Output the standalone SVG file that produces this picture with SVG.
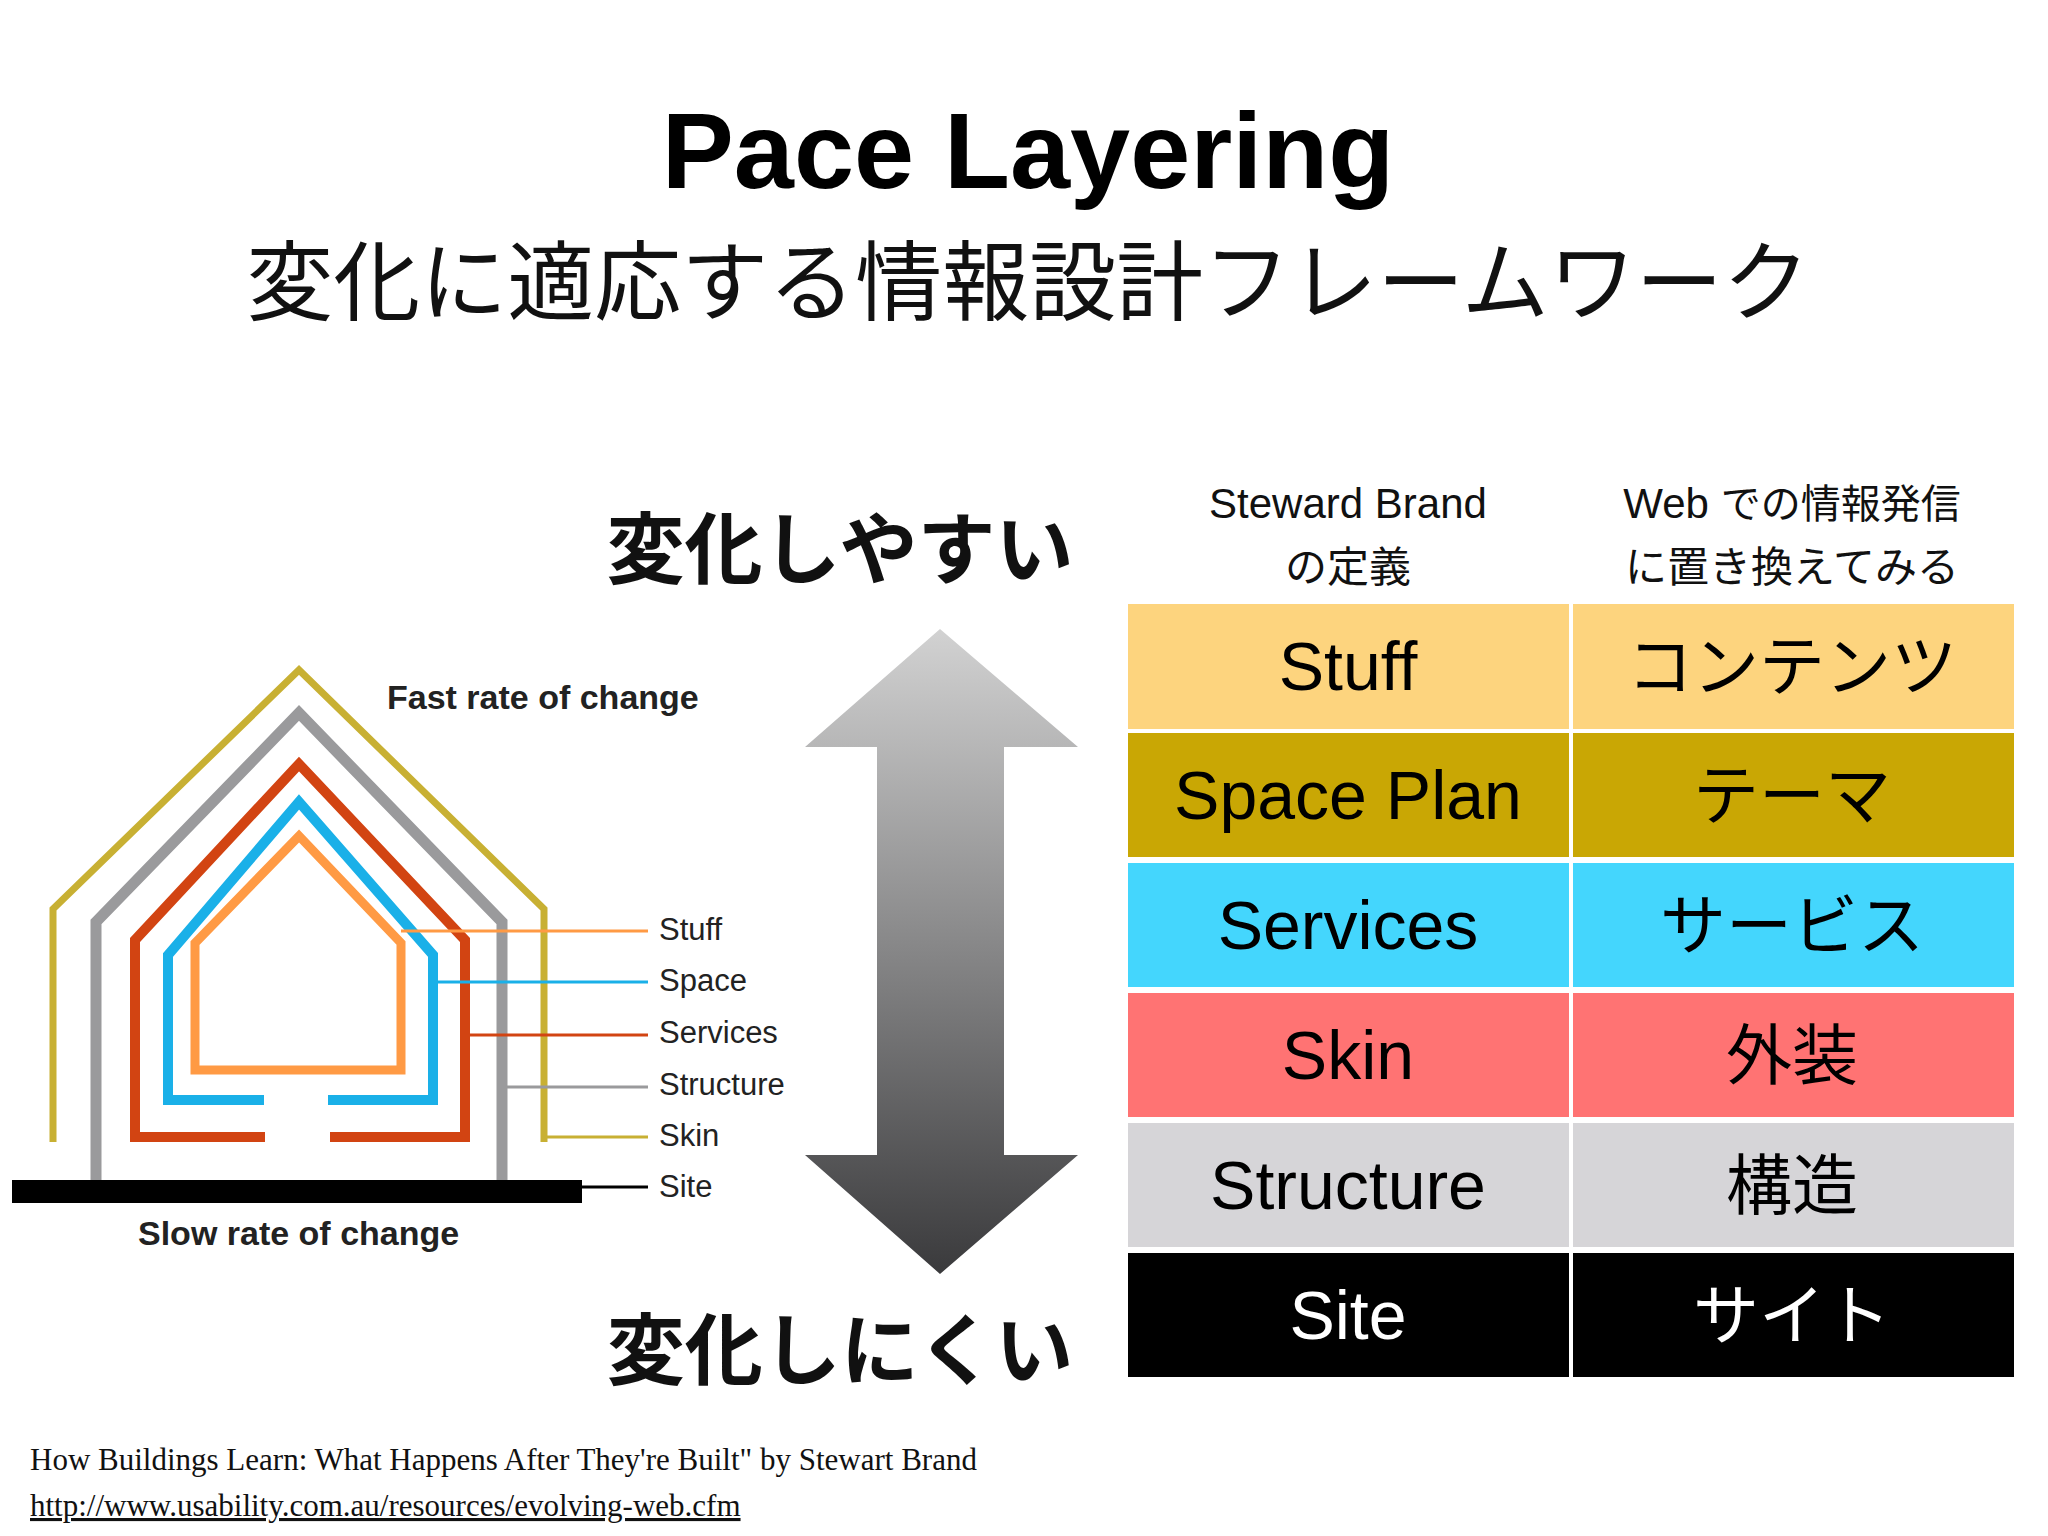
<svg xmlns="http://www.w3.org/2000/svg" width="2048" height="1536" viewBox="0 0 2048 1536">
<defs>
<linearGradient id="ag" x1="0" y1="0" x2="0" y2="1"><stop offset="0" stop-color="#d2d2d2"/><stop offset="1" stop-color="#3a3a3c"/></linearGradient>
<style>
.jp{font-family:"Noto Sans CJK JP",sans-serif}
.la{font-family:"Liberation Sans",Arial,"Noto Sans CJK JP",sans-serif}
.cell{font-size:68px;text-anchor:middle}
.cj{font-size:66px;text-anchor:middle;font-family:"Noto Sans CJK JP",sans-serif}
.hd{font-size:42px;text-anchor:middle;fill:#111}
.lbl{font-family:"Liberation Sans",Arial,sans-serif;font-size:31px;fill:#222}
.ln{fill:none}
</style>
</defs>
<rect width="2048" height="1536" fill="#fff"/>
<g id="title">
<text x="1028" y="188" text-anchor="middle" class="la" font-weight="bold" font-size="108" fill="#000">Pace Layering</text>
<text x="1028" y="314" text-anchor="middle" class="jp" font-size="87" fill="#111">変化に適応する情報設計フレームワーク</text>
</g>
<g id="house">
<polyline class="ln" stroke="#c8b033" stroke-width="7" points="53,1142 53,909 299,670 544,909 544,1142"/>
<polyline class="ln" stroke="#9a9a9c" stroke-width="11" points="96,1180 96,922 299,713 502,922 502,1180"/>
<polyline class="ln" stroke="#d24412" stroke-width="10" points="265,1137 135,1137 135,940 299,764 465,940 465,1137 330,1137"/>
<polyline class="ln" stroke="#1ab0e8" stroke-width="10" points="264,1100 168,1100 168,955 299,802 433,955 433,1100 328,1100"/>
<polygon class="ln" stroke="#ff9a44" stroke-width="9" points="195,1070 195,943 299,836 401,943 401,1070"/>
<rect x="12" y="1180" width="570" height="23" fill="#000"/>
</g>
<g id="leaders" stroke-width="3">
<line x1="401" y1="931" x2="648" y2="931" stroke="#ff9a44"/>
<line x1="433" y1="982" x2="648" y2="982" stroke="#1ab0e8"/>
<line x1="465" y1="1035" x2="648" y2="1035" stroke="#d24412"/>
<line x1="502" y1="1087" x2="648" y2="1087" stroke="#9a9a9c"/>
<line x1="544" y1="1137" x2="648" y2="1137" stroke="#c8b033"/>
<line x1="582" y1="1187" x2="648" y2="1187" stroke="#000"/>
</g>
<g id="labels">
<text class="lbl" x="659" y="940">Stuff</text>
<text class="lbl" x="659" y="991">Space</text>
<text class="lbl" x="659" y="1043">Services</text>
<text class="lbl" x="659" y="1095">Structure</text>
<text class="lbl" x="659" y="1146">Skin</text>
<text class="lbl" x="659" y="1197">Site</text>
<text x="387" y="709" class="la" font-weight="bold" font-size="34" fill="#222">Fast rate of change</text>
<text x="138" y="1245" class="la" font-weight="bold" font-size="34" fill="#222">Slow rate of change</text>
</g>
<g id="arrow">
<polygon fill="url(#ag)" points="940,629 1078,747 1004,747 1004,1155 1078,1155 940,1274 805,1155 877,1155 877,747 805,747"/>
</g>
<g id="ease">
<text x="840" y="578" text-anchor="middle" class="jp" font-weight="bold" font-size="78" fill="#111">変化しやすい</text>
<text x="840" y="1379" text-anchor="middle" class="jp" font-weight="bold" font-size="78" fill="#111">変化しにくい</text>
</g>
<g id="table">
<text class="hd la" x="1348" y="518">Steward Brand</text>
<text class="hd jp" x="1348" y="582" font-size="40">の定義</text>
<text class="hd la" x="1792" y="518">Web <tspan class="jp" font-size="40">での情報発信</tspan></text>
<text class="hd jp" x="1792" y="582" font-size="40">に置き換えてみる</text>
<g id="r1"><rect x="1128" y="604" width="441" height="125" fill="#fdd47e"/><rect x="1573" y="604" width="441" height="125" fill="#fdd47e"/>
<text class="cell la" x="1348" y="690">Stuff</text><text class="cj" x="1792" y="690">コンテンツ</text></g>
<g id="r2"><rect x="1128" y="733" width="441" height="124" fill="#c9a704"/><rect x="1573" y="733" width="441" height="124" fill="#c9a704"/>
<text class="cell la" x="1348" y="819">Space Plan</text><text class="cj" x="1792" y="819">テーマ</text></g>
<g id="r3"><rect x="1128" y="863" width="441" height="124" fill="#44d6fd"/><rect x="1573" y="863" width="441" height="124" fill="#44d6fd"/>
<text class="cell la" x="1348" y="949">Services</text><text class="cj" x="1792" y="949">サービス</text></g>
<g id="r4"><rect x="1128" y="993" width="441" height="124" fill="#ff7373"/><rect x="1573" y="993" width="441" height="124" fill="#ff7373"/>
<text class="cell la" x="1348" y="1079">Skin</text><text class="cj" x="1792" y="1079">外装</text></g>
<g id="r5"><rect x="1128" y="1123" width="441" height="124" fill="#d6d5d8"/><rect x="1573" y="1123" width="441" height="124" fill="#d6d5d8"/>
<text class="cell la" x="1348" y="1209">Structure</text><text class="cj" x="1792" y="1209">構造</text></g>
<g id="r6"><rect x="1128" y="1253" width="441" height="124" fill="#000"/><rect x="1573" y="1253" width="441" height="124" fill="#000"/>
<text class="cell la" x="1348" y="1339" fill="#fff">Site</text><text class="cj" x="1792" y="1339" fill="#fff">サイト</text></g>
</g>
<g id="footer" font-family="Liberation Serif,serif" font-size="31" fill="#111">
<text x="30" y="1470">How Buildings Learn: What Happens After They're Built" by Stewart Brand</text>
<text x="30" y="1516" text-decoration="underline">http://www.usability.com.au/resources/evolving-web.cfm</text>
</g>
</svg>
